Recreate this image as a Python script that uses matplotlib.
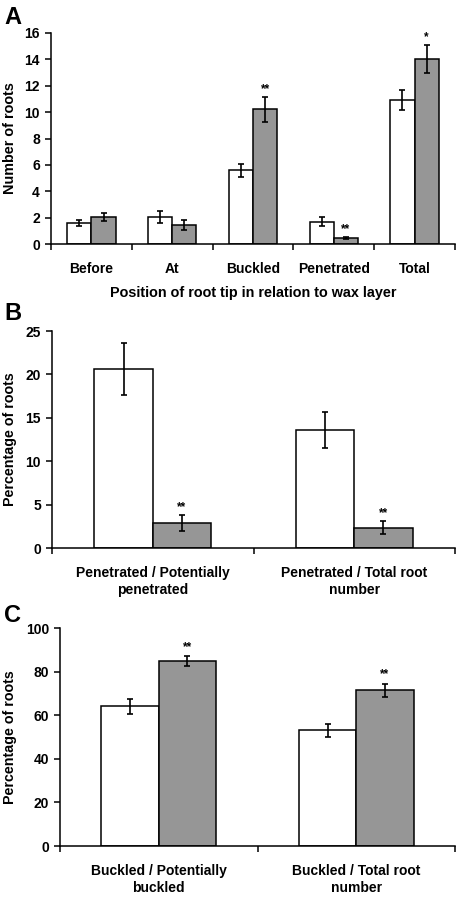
import matplotlib
matplotlib.use("Agg")
import matplotlib.pyplot as plt
import numpy as np

plt.rcParams['font.family'] = ['Liberation Sans', 'DejaVu Sans']
plt.rcParams['font.weight'] = 'bold'

W, H = 457, 907

# panel A: number of roots
a_cats = ["Before", "At", "Buckled", "Penetrated", "Total"]
a_white = [1.58, 2.05, 5.6, 1.7, 10.9]
a_white_err = [0.25, 0.47, 0.5, 0.33, 0.75]
a_grey = [2.05, 1.45, 10.2, 0.45, 14.05]
a_grey_err = [0.3, 0.37, 0.95, 0.07, 1.05]
a_stars = ["", "", "**", "**", "*"]

# panel B: penetration percentages
b_cats = ["Penetrated / Potentially\npenetrated", "Penetrated / Total root\nnumber"]
b_white = [20.6, 13.6]
b_white_err = [3.0, 2.1]
b_grey = [2.9, 2.35]
b_grey_err = [0.9, 0.78]
b_stars = ["**", "**"]

# panel C: buckling percentages
c_cats = ["Buckled / Potentially\nbuckled", "Buckled / Total root\nnumber"]
c_white = [64.0, 53.0]
c_white_err = [3.6, 3.0]
c_grey = [84.8, 71.4]
c_grey_err = [2.2, 3.0]
c_stars = ["**", "**"]

GREY = "#969696"

fig = plt.figure(figsize=(W / 100, H / 100), dpi=100)


def add_ax(left, top, right, bottom):
    return fig.add_axes([left / W, 1 - bottom / H, (right - left) / W, (bottom - top) / H])


def panel(ax, cats, white, white_err, grey, grey_err, stars, ymax, ystep, bw, star_off):
    x = np.arange(len(cats))
    ekw = dict(elinewidth=1.2, capthick=1.2, ecolor="black")
    ax.bar(x - bw / 2, white, bw, color="white", edgecolor="black", linewidth=1.1,
           yerr=white_err, capsize=2, error_kw=ekw, zorder=2)
    ax.bar(x + bw / 2, grey, bw, color=GREY, edgecolor="black", linewidth=1.1,
           yerr=grey_err, capsize=2, error_kw=ekw, zorder=2)
    for i, s in enumerate(stars):
        if s:
            ax.text(x[i] + bw / 2, grey[i] + grey_err[i] + star_off, s, ha="center",
                    va="bottom", fontsize=8.5, fontweight="bold")
    ax.set_xlim(-0.5, len(cats) - 0.5)
    ax.set_ylim(0, ymax)
    ax.set_yticks(np.arange(0, ymax + 0.1, ystep))
    ax.set_xticks(x)
    ax.set_xticklabels(cats, fontsize=10, fontweight="bold", linespacing=1.25)
    ax.set_xticks(np.arange(-0.5, len(cats), 1.0), minor=True)
    ax.tick_params(axis="x", which="major", length=0, pad=13)
    ax.tick_params(axis="x", which="minor", length=4, width=1.1, direction="out")
    ax.tick_params(axis="y", length=4, width=1.1, direction="out", labelsize=10, pad=4)
    for lab in ax.get_yticklabels():
        lab.set_fontweight("bold")
    for sp in ["top", "right"]:
        ax.spines[sp].set_visible(False)
    for sp in ["left", "bottom"]:
        ax.spines[sp].set_linewidth(1.1)


# A
axA = add_ax(51, 33, 455, 244)
panel(axA, a_cats, a_white, a_white_err, a_grey, a_grey_err, a_stars, 16, 2, 0.3, 0.15)
fig.text(253 / W, 1 - 293 / H, "Position of root tip in relation to wax layer",
         ha="center", va="center", fontsize=10.4, fontweight="bold")
fig.text(10 / W, 1 - 138 / H, "Number of roots", rotation=90, ha="center", va="center",
         fontsize=10.4, fontweight="bold")
fig.text(4 / W, 1 - 18 / H, "A", ha="left", va="center", fontsize=17, fontweight="bold")

# B
axB = add_ax(52, 331, 455, 548)
panel(axB, b_cats, b_white, b_white_err, b_grey, b_grey_err, b_stars, 25, 5, 0.29, 0.2)
fig.text(10 / W, 1 - 439 / H, "Percentage of roots", rotation=90, ha="center", va="center",
         fontsize=10.3, fontweight="bold")
fig.text(4 / W, 1 - 313 / H, "B", ha="left", va="center", fontsize=17, fontweight="bold")

# C
axC = add_ax(60, 628, 455, 846)
panel(axC, c_cats, c_white, c_white_err, c_grey, c_grey_err, c_stars, 100, 20, 0.29, 1.5)
fig.text(10 / W, 1 - 737 / H, "Percentage of roots", rotation=90, ha="center", va="center",
         fontsize=10.3, fontweight="bold")
fig.text(4 / W, 1 - 616 / H, "C", ha="left", va="center", fontsize=17, fontweight="bold")

fig.savefig("out.png", dpi=100)
